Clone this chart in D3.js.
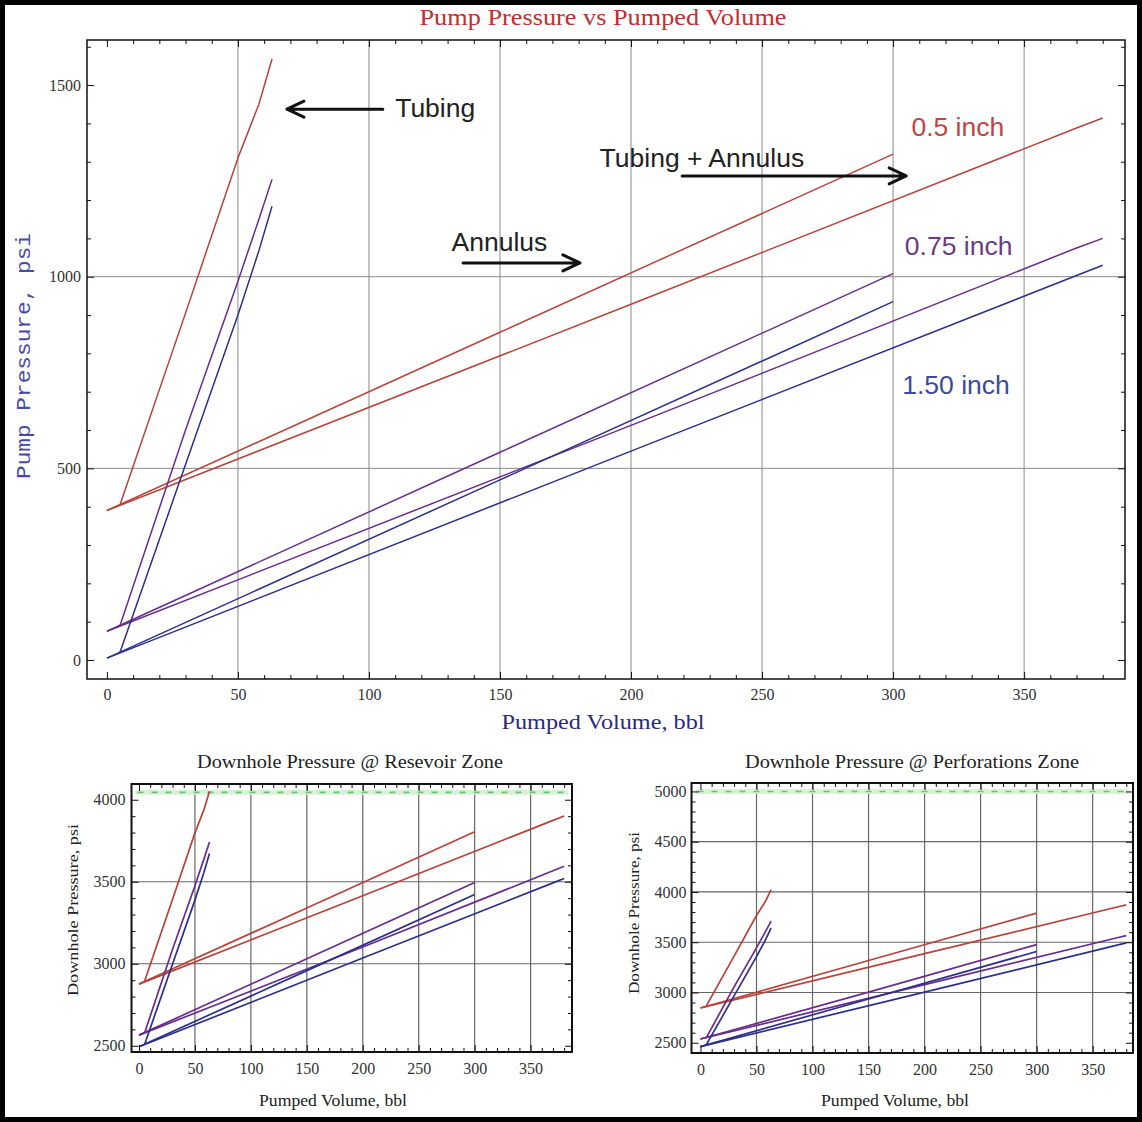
<!DOCTYPE html>
<html>
<head>
<meta charset="utf-8">
<script src="https://d3js.org/d3.v7.min.js"></script>
<style>
    body { margin: 0; background: #ffffff; }
    svg { display: block; }
</style>
</head>
<body>
<svg id="drawing_region" width="1142" height="1122"></svg>
<script>
// ---- data ----
const sizes = ['0.5 inch', '0.75 inch', '1.50 inch'];

const tubingVolume = [5, 30, 50, 58, 63];
const annulusVolume = [0, 150, 300];
const combinedVolume = [0, 200, 370, 380];

// pump pressure, psi (rows follow sizes)
const pumpTubing = [
    [405, 905, 1310, 1450, 1568],
    [90, 600, 988, 1150, 1254],
    [20, 510, 900, 1068, 1184]
];
const pumpAnnulus = [
    [390, 855, 1320],
    [75, 542, 1008],
    [5, 470, 935]
];
const pumpCombined = [
    [390, 928, 1388, 1414],
    [75, 612, 1075, 1100],
    [5, 545, 1003, 1030]
];

// downhole pressure @ reservoir zone, psi
const resTubing = [
    [2893, 3393, 3798, 3938, 4052],
    [2578, 3088, 3476, 3638, 3742],
    [2508, 2998, 3388, 3556, 3672]
];
const resAnnulus = [
    [2876, 3340, 3805],
    [2565, 3030, 3496],
    [2494, 2958, 3422]
];
const resCombined = [
    [2876, 3415, 3874, 3901],
    [2565, 3102, 3567, 3595],
    [2494, 3035, 3493, 3520]
];
const resLimit = 4045;

// downhole pressure @ perforations zone, psi
const perfTubing = [
    [2861, 3361, 3766, 3906, 4024],
    [2546, 3056, 3444, 3606, 3710],
    [2476, 2966, 3356, 3524, 3640]
];
const perfAnnulus = [
    [2846, 3318, 3790],
    [2537, 3004, 3476],
    [2462, 2935, 3408]
];
const perfCombined = [
    [2846, 3386, 3845, 3872],
    [2537, 3078, 3540, 3566],
    [2462, 3004, 3466, 3493]
];
const perfLimit = 5000;

const volumeTicks = [0, 50, 100, 150, 200, 250, 300, 350];
const pumpTicks = [0, 500, 1000, 1500];
const resTicks = [2500, 3000, 3500, 4000];
const perfTicks = [2500, 3000, 3500, 4000, 4500, 5000];

// ---- styles ----
const lineColors = ['#b8433b', '#6a2c8c', '#2c2f8c'];
const labelColors = ['#c0453f', '#6a3c82', '#3b4b9c'];
const SERIF = '"Liberation Serif", "Times New Roman", serif';
const SANS = '"Liberation Sans", Arial, sans-serif';
const MONO = '"Liberation Mono", "Courier New", monospace';

const svg = d3.select('#drawing_region');

svg.append('rect')
    .attr('x', 2.5).attr('y', 2.5)
    .attr('width', 1137).attr('height', 1117)
    .attr('fill', 'none')
    .attr('stroke', '#000')
    .attr('stroke-width', 5);

const buildSeries = (tubing, annulus, combined) => {
    let out = [];
    sizes.forEach( (s, i) => {
        out.push({ color: lineColors[i], pts: annulusVolume.map( (v, j) => [v, annulus[i][j]] ) });
        out.push({ color: lineColors[i], pts: combinedVolume.map( (v, j) => [v, combined[i][j]] ) });
        out.push({ color: lineColors[i], pts: tubingVolume.map( (v, j) => [v, tubing[i][j]] ) });
    });
    return out;
};

class FramePlot {

    constructor( config, series ) {
        this.config = config;
        this.series = series;
        this.init();
    }

    init() {
        let self = this;
        const c = self.config;

        self.chart = svg.append('g');

        self.xscale = d3.scaleLinear()
            .domain( c.xdomain )
            .range( [c.left, c.right] );

        self.yscale = d3.scaleLinear()
            .domain( c.ydomain )
            .range( [c.bottom, c.top] );

        // grid
        self.chart.append('g').selectAll('line')
            .data( c.xgrid )
            .join('line')
            .attr('x1', d => self.xscale(d)).attr('x2', d => self.xscale(d))
            .attr('y1', c.top).attr('y2', c.bottom)
            .attr('stroke', c.gridColor).attr('stroke-width', c.gridWidth);

        self.chart.append('g').selectAll('line')
            .data( c.ygrid )
            .join('line')
            .attr('y1', d => self.yscale(d)).attr('y2', d => self.yscale(d))
            .attr('x1', c.left).attr('x2', c.right)
            .attr('stroke', c.gridColor).attr('stroke-width', c.gridWidth);

        if (c.limit !== undefined) {
            self.chart.append('line')
                .attr('x1', c.left + 4).attr('x2', c.right - 4)
                .attr('y1', self.yscale(c.limit)).attr('y2', self.yscale(c.limit))
                .attr('stroke', '#d8f0d8').attr('stroke-width', 5);
            self.chart.append('line')
                .attr('x1', c.left + 6).attr('x2', c.right - 4)
                .attr('y1', self.yscale(c.limit)).attr('y2', self.yscale(c.limit))
                .attr('stroke', '#6cc46c').attr('stroke-width', 1.6)
                .attr('stroke-dasharray', '6,8');
        }
    }

    render() {
        let self = this;
        const c = self.config;

        const line = d3.line()
            .x( d => self.xscale(d[0]) )
            .y( d => self.yscale(d[1]) );

        self.chart.append('g').selectAll('path')
            .data( self.series )
            .join('path')
            .attr('d', d => line(d.pts))
            .attr('fill', 'none')
            .attr('stroke', d => d.color)
            .attr('stroke-width', c.lineWidth)
            .attr('stroke-linejoin', 'round');

        const xminor = d3.range(10, c.xdomain[1], 10).filter( v => v % 50 !== 0 );
        const yminor = d3.range(Math.ceil(c.ydomain[0] / 100) * 100, c.ydomain[1], 100)
            .filter( v => v % 500 !== 0 );

        const addAxis = ( axis, tx, ty ) => {
            const g = self.chart.append('g')
                .attr('transform', `translate(${tx}, ${ty})`)
                .call( axis );
            g.select('.domain').remove();
            g.selectAll('line').attr('stroke', '#111').attr('stroke-width', 1);
            g.selectAll('text')
                .attr('font-family', SERIF)
                .attr('font-size', c.tickFont)
                .attr('fill', '#333');
            return g;
        };

        // bottom and left with labels, top and right without
        addAxis( d3.axisBottom(self.xscale).tickValues(volumeTicks).tickSize(-7).tickPadding(c.xpad).tickFormat(d3.format('d')), 0, c.bottom );
        addAxis( d3.axisBottom(self.xscale).tickValues(xminor).tickSize(-4).tickFormat(''), 0, c.bottom );
        addAxis( d3.axisTop(self.xscale).tickValues(volumeTicks).tickSize(-7).tickFormat(''), 0, c.top );
        addAxis( d3.axisTop(self.xscale).tickValues(xminor).tickSize(-4).tickFormat(''), 0, c.top );

        addAxis( d3.axisLeft(self.yscale).tickValues(c.yticks).tickSize(-7).tickPadding(c.ypad).tickFormat(d3.format('d')), c.left, 0 );
        addAxis( d3.axisLeft(self.yscale).tickValues(yminor).tickSize(-4).tickFormat(''), c.left, 0 );
        addAxis( d3.axisRight(self.yscale).tickValues(c.yticks).tickSize(-7).tickFormat(''), c.right, 0 );
        addAxis( d3.axisRight(self.yscale).tickValues(yminor).tickSize(-4).tickFormat(''), c.right, 0 );

        self.chart.append('rect')
            .attr('x', c.left).attr('y', c.top)
            .attr('width', c.right - c.left).attr('height', c.bottom - c.top)
            .attr('fill', 'none')
            .attr('stroke', '#111')
            .attr('stroke-width', c.frameWidth);

        // titles
        self.chart.append('text')
            .attr('x', c.title.x).attr('y', c.title.y)
            .attr('text-anchor', 'middle')
            .attr('font-family', SERIF)
            .attr('font-size', c.title.size)
            .attr('fill', c.title.color)
            .attr('textLength', c.title.len)
            .attr('lengthAdjust', 'spacingAndGlyphs')
            .text( c.title.text );

        self.chart.append('text')
            .attr('x', c.xlabel.x).attr('y', c.xlabel.y)
            .attr('text-anchor', 'middle')
            .attr('font-family', SERIF)
            .attr('font-size', c.xlabel.size)
            .attr('fill', c.xlabel.color)
            .attr('textLength', c.xlabel.len)
            .attr('lengthAdjust', 'spacingAndGlyphs')
            .text( c.xlabel.text );

        self.chart.append('text')
            .attr('transform', `translate(${c.ylabel.x}, ${c.ylabel.y}) rotate(-90)`)
            .attr('text-anchor', 'middle')
            .attr('font-family', c.ylabel.font)
            .attr('font-size', c.ylabel.size)
            .attr('fill', c.ylabel.color)
            .attr('textLength', c.ylabel.len)
            .attr('lengthAdjust', 'spacingAndGlyphs')
            .text( c.ylabel.text );
    }
}

// ---- main chart: pump pressure ----
const pump_plot = new FramePlot({
    left: 87, right: 1125, top: 40, bottom: 679,
    xdomain: [-7.6, 388.5], ydomain: [-49.6, 1617.6],
    xgrid: [50, 100, 150, 200, 250, 300, 350], ygrid: [500, 1000],
    yticks: pumpTicks,
    gridColor: '#8a8a8a', gridWidth: 1, lineWidth: 1.5, frameWidth: 1.5,
    tickFont: 16, xpad: 10, ypad: 6,
    title: { text: 'Pump Pressure vs Pumped Volume', x: 603, y: 25, size: 24, len: 367, color: '#c0302c' },
    xlabel: { text: 'Pumped Volume, bbl', x: 603, y: 729, size: 22, len: 203, color: '#2a2a80' },
    ylabel: { text: 'Pump Pressure, psi', x: 30, y: 356, size: 21, len: 246, color: '#4a4aa6', font: MONO }
}, buildSeries(pumpTubing, pumpAnnulus, pumpCombined));
pump_plot.render();

// annotations on the main chart, placed in data units
const px = pump_plot.xscale, py = pump_plot.yscale;
const notes = [
    { text: 'Tubing', v: 110, p: 1417, color: '#222' },
    { text: 'Tubing + Annulus', v: 188, p: 1286, color: '#222' },
    { text: 'Annulus', v: 131.5, p: 1067, color: '#222' },
    { text: sizes[0], v: 307, p: 1367, color: labelColors[0] },
    { text: sizes[1], v: 304.5, p: 1057, color: labelColors[1] },
    { text: sizes[2], v: 303.5, p: 694, color: labelColors[2] }
];
pump_plot.chart.append('g').selectAll('text')
    .data( notes )
    .join('text')
    .attr('x', d => px(d.v))
    .attr('y', d => py(d.p))
    .attr('font-family', SANS)
    .attr('font-size', 26.5)
    .attr('fill', d => d.color)
    .text( d => d.text );

const arrows = [
    { from: 105.3, to: 68.7, p: 1437 },
    { from: 219.5, to: 305, p: 1263 },
    { from: 135.9, to: 180.5, p: 1036 }
];
const arrowPath = d => {
    const x0 = px(d.from), x1 = px(d.to), y = py(d.p);
    const dir = x1 > x0 ? -1 : 1;
    return `M${x0},${y}L${x1},${y}M${x1 + dir * 17},${y - 8}L${x1},${y}L${x1 + dir * 17},${y + 8}`;
};
pump_plot.chart.append('g').selectAll('path')
    .data( arrows )
    .join('path')
    .attr('d', arrowPath)
    .attr('fill', 'none')
    .attr('stroke', '#111')
    .attr('stroke-width', 3)
    .attr('stroke-linecap', 'round')
    .attr('stroke-linejoin', 'round');

// ---- downhole pressure @ reservoir ----
const res_plot = new FramePlot({
    left: 131.5, right: 572, top: 784, bottom: 1052,
    xdomain: [-6.7, 387], ydomain: [2462, 4096],
    xgrid: [50, 100, 150, 200, 250, 300, 350], ygrid: [3000, 3500],
    yticks: resTicks, limit: resLimit,
    gridColor: '#666', gridWidth: 1.2, lineWidth: 1.7, frameWidth: 2,
    tickFont: 16, xpad: 11, ypad: 6,
    title: { text: 'Downhole Pressure @ Resevoir Zone', x: 350, y: 768, size: 18, len: 306, color: '#222' },
    xlabel: { text: 'Pumped Volume, bbl', x: 333, y: 1106, size: 16, len: 148, color: '#222' },
    ylabel: { text: 'Downhole Pressure, psi', x: 78, y: 910, size: 15, len: 172, color: '#222', font: SERIF }
}, buildSeries(resTubing, resAnnulus, resCombined));
res_plot.render();

// ---- downhole pressure @ perforations ----
const perf_plot = new FramePlot({
    left: 691.5, right: 1133, top: 783, bottom: 1053,
    xdomain: [-8, 386], ydomain: [2398, 5084],
    xgrid: [50, 100, 150, 200, 250, 300, 350], ygrid: [3000, 3500, 4000, 4500],
    yticks: perfTicks, limit: perfLimit,
    gridColor: '#666', gridWidth: 1.2, lineWidth: 1.7, frameWidth: 2,
    tickFont: 16, xpad: 11, ypad: 5,
    title: { text: 'Downhole Pressure @ Perforations Zone', x: 912, y: 768, size: 18, len: 334, color: '#222' },
    xlabel: { text: 'Pumped Volume, bbl', x: 895, y: 1106, size: 16, len: 148, color: '#222' },
    ylabel: { text: 'Downhole Pressure, psi', x: 639, y: 913, size: 15, len: 162, color: '#222', font: SERIF }
}, buildSeries(perfTubing, perfAnnulus, perfCombined));
perf_plot.render();
</script>
</body>
</html>
